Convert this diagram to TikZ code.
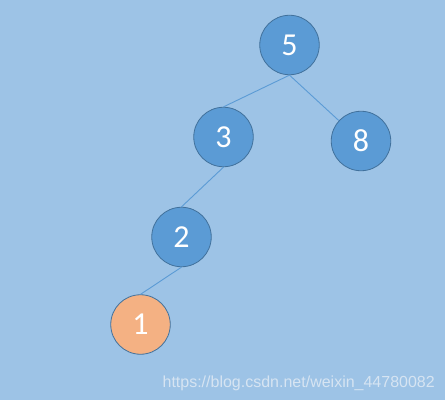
\documentclass[tikz,border=0pt]{standalone}
\usepackage{fontspec}
\setmainfont{Carlito}
\newfontfamily\wmfont{Liberation Sans}
\definecolor{bgc}{HTML}{9DC3E6}
\definecolor{nodefill}{HTML}{5B9BD5}
\definecolor{nodeline}{HTML}{41719C}
\definecolor{leaffill}{HTML}{F4B183}
\definecolor{edgec}{HTML}{5B9BD5}
\definecolor{wmc}{HTML}{D6E4F2}
\tikzset{
  tnode/.style={circle, draw=nodeline, line width=0.8pt, fill=nodefill, minimum size=59.5pt, inner sep=0pt, text=white, font=\fontsize{32}{32}\selectfont},
  leaf/.style={tnode, fill=leaffill},
  edge/.style={draw=edgec, line width=0.9pt}
}
\begin{document}
\begin{tikzpicture}[x=1pt,y=1pt]
\fill[bgc] (0,0) rectangle (445,400);
\useasboundingbox (0,0) rectangle (445,400);
\node[tnode] (n5) at (289.5,355) {5};
\node[tnode] (n3) at (223.5,263) {3};
\node[tnode] (n8) at (361,259) {8};
\node[tnode] (n2) at (181.5,163) {2};
\node[leaf] (n1) at (140.5,75.5) {1};
\draw[edge] (n5.south) -- (n3.north);
\draw[edge] (n5.south) -- (n8);
\draw[edge] (n3.south) -- (n2.north);
\draw[edge] (n2.south) -- (n1.north);
\node[anchor=base east, inner sep=0pt, text=wmc, font=\wmfont\fontsize{16}{16}\selectfont] (wm) at (435,13) {https://blog.csdn.net/weixin\_44780082};
\end{tikzpicture}
\end{document}
